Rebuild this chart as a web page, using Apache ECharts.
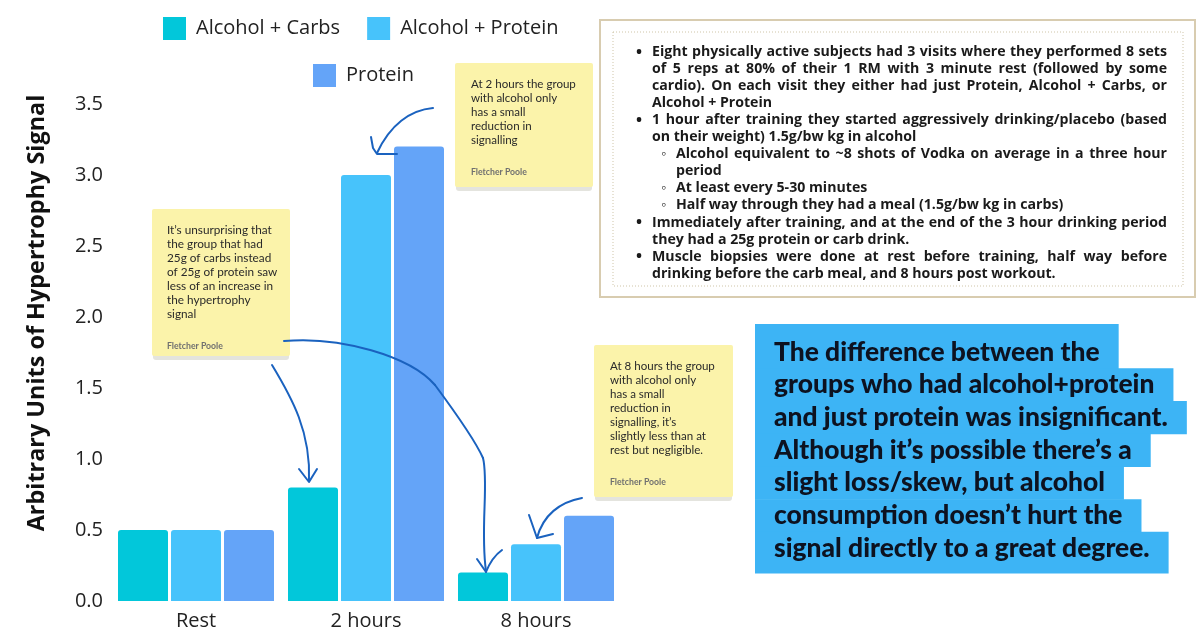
<!DOCTYPE html>
<html><head><meta charset="utf-8">
<script src="https://cdn.jsdelivr.net/npm/echarts@6/dist/echarts.min.js"></script>
<style>html,body{margin:0;padding:0;background:#fff}#c{width:1200px;height:628px}</style>
</head><body><div id="c"></div>
<script>
// ---- data ----
const categories = ['Rest', '2 hours', '8 hours'];
const seriesNames = ['Alcohol + Carbs', 'Alcohol + Protein', 'Protein'];
const alcoholCarbs = [0.5, 0.8, 0.2];
const alcoholProtein = [0.5, 3.0, 0.4];
const proteinOnly = [0.5, 3.2, 0.6];
const yMin = 0, yMax = 3.5, yStep = 0.5;
const yAxisTitle = 'Arbitrary Units of Hypertrophy Signal';

const note1Lines = ['It\u2019s unsurprising that', 'the group that had', '25g of carbs instead', 'of 25g of protein saw', 'less of an increase in', 'the hypertrophy', 'signal'];
const note2Lines = ['At 2 hours the group', 'with alcohol only', 'has a small', 'reduction in', 'signalling'];
const note3Lines = ['At 8 hours the group', 'with alcohol only', 'has a small', 'reduction in', 'signalling, it\u2019s', 'slightly less than at', 'rest but negligible.'];
const noteAuthor = 'Fletcher Poole';

const boxLines = [
  ['Eight physically active subjects had 3 visits where they performed 8 sets', 1, true, true],
  ['of 5 reps at 80% of their 1 RM with 3 minute rest (followed by some', 1, false, true],
  ['cardio). On each visit they either had just Protein, Alcohol + Carbs, or', 1, false, true],
  ['Alcohol + Protein', 1, false, false],
  ['1 hour after training they started aggressively drinking/placebo (based', 1, true, true],
  ['on their weight) 1.5g/bw kg in alcohol', 1, false, false],
  ['Alcohol equivalent to ~8 shots of Vodka on average in a three hour', 2, true, true],
  ['period', 2, false, false],
  ['At least every 5-30 minutes', 2, true, false],
  ['Half way through they had a meal (1.5g/bw kg in carbs)', 2, true, false],
  ['Immediately after training, and at the end of the 3 hour drinking period', 1, true, true],
  ['they had a 25g protein or carb drink.', 1, false, false],
  ['Muscle biopsies were done at rest before training, half way before', 1, true, true],
  ['drinking before the carb meal, and 8 hours post workout.', 1, false, false]
];

const conclusionLines = [
  'The difference between the',
  'groups who had alcohol+protein',
  'and just protein was insignificant.',
  'Although it\u2019s possible there\u2019s a',
  'slight loss/skew, but alcohol',
  'consumption doesn\u2019t hurt the',
  'signal directly to a great degree.'
];

// ---- helpers ----
const mctx = document.createElement('canvas').getContext('2d');
function fontStr(w, s, f) { return w + ' ' + s + 'px ' + f; }
function measure(t, w, s, f) { mctx.font = fontStr(w, s, f); return mctx.measureText(t).width; }
function fit(t, w, f, target) { return 100 * target / measure(t, w, 100, f); }

const OS = '"Open Sans", "Noto Sans", sans-serif';
const LATO = 'Lato, "Open Sans", sans-serif';

const g = [];

// y axis title
const yNameSize = Math.min(24, fit(yAxisTitle, 'bold', OS, 437));
g.push({ type: 'text', x: 37, y: 313, rotation: Math.PI / 2, z: 100,
  style: { text: yAxisTitle, font: fontStr('bold', yNameSize, OS), fill: '#111', align: 'center', verticalAlign: 'middle' } });

// sticky notes
function note(x, y, w, h, lines, tx, ty0, authorY) {
  g.push({ type: 'rect', z: 90, shape: { x: x + 1, y: y + 4, width: w - 2, height: h, r: 3 }, style: { fill: '#E4E4DE' } });
  g.push({ type: 'rect', z: 91, shape: { x: x, y: y, width: w, height: h, r: 2 }, style: { fill: '#FBF3AA' } });
  const fs = fit(lines[0], 'normal', LATO, 105);
  lines.forEach((t, i) => g.push({ type: 'text', z: 92, x: tx, y: ty0 + i * 14,
    style: { text: t, font: fontStr('normal', fs, LATO), fill: '#2a2a2a', verticalAlign: 'middle' } }));
  const fa = fit(noteAuthor, 'bold', LATO, 56);
  g.push({ type: 'text', z: 92, x: tx, y: authorY, style: { text: noteAuthor, font: fontStr('bold', fa, LATO), fill: '#707070', verticalAlign: 'middle' } });
}
note(152, 209, 138, 147, note1Lines, 167, 230, 346);
note(455, 63, 138, 124, note2Lines, 471, 84, 172);
note(594, 345, 139, 152, note3Lines, 610, 366, 482);

// arrows
const arrowStyle = { stroke: '#1A62BF', lineWidth: 2, fill: null, lineCap: 'round', lineJoin: 'round' };
const curves = [
  [272, 365, 292, 398, 311, 432, 309, 481],
  [284, 341, 340, 336, 410, 356, 435, 385],
  [435, 385, 455, 412, 475, 440, 483, 458],
  [483, 458, 489, 482, 480, 530, 486, 571],
  [486, 572, 490, 562, 495, 555, 502, 550],
  [433, 108, 410, 110, 390, 125, 377, 153],
  [582, 498, 560, 502, 543, 515, 537, 538]
];
curves.forEach(c => g.push({ type: 'bezierCurve', z: 95,
  shape: { x1: c[0], y1: c[1], cpx1: c[2], cpy1: c[3], cpx2: c[4], cpy2: c[5], x2: c[6], y2: c[7] }, style: arrowStyle }));
const heads = [
  [[299, 469], [309, 482], [317, 469]],
  [[477, 559], [486, 572]],
  [[371, 137], [373, 148], [377, 154], [397, 154]],
  [[529, 515], [537, 538], [553, 534]]
];
heads.forEach(p => g.push({ type: 'polyline', z: 95, shape: { points: p }, style: arrowStyle }));

// methods text box
g.push({ type: 'rect', z: 80, shape: { x: 600, y: 20, width: 595, height: 277 }, style: { fill: '#fff', stroke: '#D8CCB0', lineWidth: 2 } });
g.push({ type: 'rect', z: 81, shape: { x: 613, y: 32, width: 570, height: 254 }, style: { fill: null, stroke: '#CFC5A8', lineWidth: 1, lineDash: [1, 2] } });
const BW = 'bold';
const bfs = fit(boxLines[13][0], BW, OS, 404);
const bfont = fontStr(BW, bfs, OS);
boxLines.forEach((ln, i) => {
  const [t, lvl, bullet, just] = ln;
  const y = 52 + i * 17.05;
  const tx = lvl === 1 ? 652 : 676;
  if (bullet) g.push({ type: 'text', z: 82, x: lvl === 1 ? 636 : 661, y: y,
    style: { text: lvl === 1 ? '\u2022' : '\u25E6', font: fontStr('bold', lvl === 1 ? bfs + 2 : bfs, OS), fill: '#1a1a1a', verticalAlign: 'middle' } });
  if (just) {
    const words = t.split(' ');
    const ws = words.map(w => measure(w, BW, bfs, OS));
    const tot = ws.reduce((a, b) => a + b, 0);
    const gap = (1167 - tx - tot) / (words.length - 1);
    let x = tx;
    words.forEach((w, k) => { g.push({ type: 'text', z: 82, x: x, y: y, style: { text: w, font: bfont, fill: '#1a1a1a', verticalAlign: 'middle' } }); x += ws[k] + gap; });
  } else {
    g.push({ type: 'text', z: 82, x: tx, y: y, style: { text: t, font: bfont, fill: '#1a1a1a', verticalAlign: 'middle' } });
  }
});

// conclusion box
const cfs = fit(conclusionLines[2], '900', LATO, 394);
const cfont = fontStr('900', cfs, LATO);
const cCenters = conclusionLines.map((_, i) => 352 + i * 32.7);
conclusionLines.forEach((t, i) => {
  const top = i === 0 ? 324 : (cCenters[i - 1] + cCenters[i]) / 2;
  const bot = i === conclusionLines.length - 1 ? 573 : (cCenters[i] + cCenters[i + 1]) / 2;
  const w = measure(t, '900', cfs, LATO);
  g.push({ type: 'rect', z: 85, shape: { x: 755, y: top, width: 19 + w + 19, height: bot - top + 0.6 }, style: { fill: '#3DB4F5' } });
});
conclusionLines.forEach((t, i) => g.push({ type: 'text', z: 86, x: 774, y: cCenters[i],
  style: { text: t, font: cfont, fill: '#0d1220', verticalAlign: 'middle' } }));

const colors = ['#02C7DA', '#47C3FB', '#64A4F8'];
const legendText = { fontSize: 20, color: '#222', fontFamily: OS, padding: [0, 0, 0, 5] };

const chart = echarts.init(document.getElementById('c'), null, { renderer: 'canvas' });
chart.setOption({
  backgroundColor: '#fff',
  animation: false,
  color: colors,
  legend: [
    { data: [seriesNames[0], seriesNames[1]], left: 163, top: 17, padding: 0, itemWidth: 23, itemHeight: 23, itemGap: 27,
      icon: 'rect', textStyle: legendText, selectedMode: false },
    { data: [seriesNames[2]], left: 313, top: 64, padding: 0, itemWidth: 23, itemHeight: 23,
      icon: 'rect', textStyle: legendText, selectedMode: false }
  ],
  grid: { left: 111, right: 579, top: 104, bottom: 27, containLabel: false, outerBoundsMode: 'none' },
  xAxis: { type: 'category', data: categories,
    axisLine: { show: false }, axisTick: { show: false },
    axisLabel: { fontSize: 20, color: '#222', fontFamily: OS, margin: 10 } },
  yAxis: { type: 'value', min: yMin, max: yMax, interval: yStep,
    axisLine: { show: false }, axisTick: { show: false }, splitLine: { show: false },
    axisLabel: { fontSize: 20, color: '#222', fontFamily: OS, margin: 8, formatter: v => v.toFixed(1) } },
  series: [
    { name: seriesNames[0], type: 'bar', data: alcoholCarbs, barWidth: 50, barGap: '6%', itemStyle: { borderRadius: [3, 3, 0, 0] } },
    { name: seriesNames[1], type: 'bar', data: alcoholProtein, barWidth: 50, barGap: '6%', itemStyle: { borderRadius: [3, 3, 0, 0] } },
    { name: seriesNames[2], type: 'bar', data: proteinOnly, barWidth: 50, barGap: '6%', itemStyle: { borderRadius: [3, 3, 0, 0] } }
  ],
  graphic: g
});
</script></body></html>
